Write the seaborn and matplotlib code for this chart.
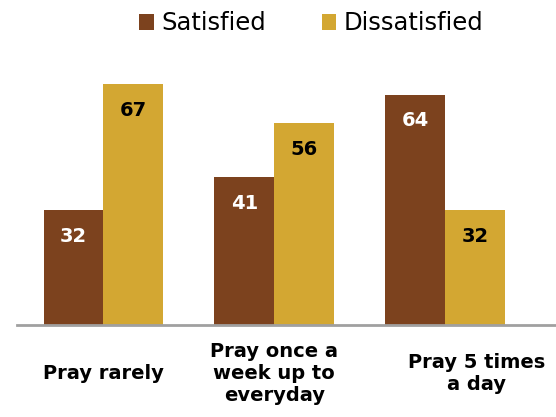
import matplotlib
matplotlib.use("Agg")
import matplotlib.pyplot as plt
import matplotlib.transforms as mtransforms
from matplotlib.patches import Patch
import pandas as pd
import seaborn as sns

categories = ["Pray rarely", "Pray once a\nweek up to\neveryday", "Pray 5 times\na day"]
satisfied = [32, 41, 64]
dissatisfied = [67, 56, 32]
series = ["Satisfied", "Dissatisfied"]
colors = ["#7C421E", "#D3A732"]

df = pd.DataFrame({
    "Group": categories * 2,
    "Response": [series[0]] * 3 + [series[1]] * 3,
    "Value": satisfied + dissatisfied,
})

sns.set_style("white")
plt.rcParams['font.family'] = ['DejaVu Sans']
plt.rcParams['text.color'] = 'black'

fig = plt.figure(figsize=(5.56, 4.17), dpi=100)
ax = fig.add_axes([17 / 556, 92 / 417, 1 - 17 / 556, 265 / 417])

sns.barplot(data=df, x="Group", y="Value", hue="Response", hue_order=series,
            palette=colors, width=0.7, gap=0, ax=ax, legend=False,
            edgecolor="none", saturation=1)

ax.set_xlim(-0.506, 2.65)
ax.set_ylim(0, 73.6)

# value labels inside the bar tops
for cont, tcolor in zip(ax.containers, ["white", "black"]):
    for bar in cont:
        h = bar.get_height()
        ax.annotate(f"{h:.0f}", (bar.get_x() + bar.get_width() / 2, h),
                    xytext=(0, -19), textcoords="offset points",
                    ha="center", va="center", color=tcolor,
                    fontsize=14, fontweight="bold")

sns.despine(ax=ax, left=True, top=True, right=True)
ax.spines["bottom"].set_color("#A0A0A0")
ax.spines["bottom"].set_linewidth(2)
ax.set_yticks([])
ax.set_xlabel("")
ax.set_ylabel("")
ax.tick_params(axis="x", length=0, pad=35, labelcolor="black")
ax.set_xticks(range(len(categories)))
ax.set_xticklabels(categories, fontsize=14, fontweight="bold", linespacing=1.2,
                   va="center")
lbl = ax.get_xticklabels()[2]
lbl.set_transform(lbl.get_transform() + mtransforms.ScaledTranslation(0.32, 0, fig.dpi_scale_trans))

handles = [Patch(facecolor=c, edgecolor="none") for c in colors]
fig.legend(handles, series, loc="upper center", bbox_to_anchor=(0.56, 1.025),
           ncol=2, frameon=False, fontsize=17.5, handlelength=0.6, handleheight=0.6,
           handletextpad=0.3, columnspacing=2.3, labelcolor="black")

fig.savefig("out.png", dpi=100)
